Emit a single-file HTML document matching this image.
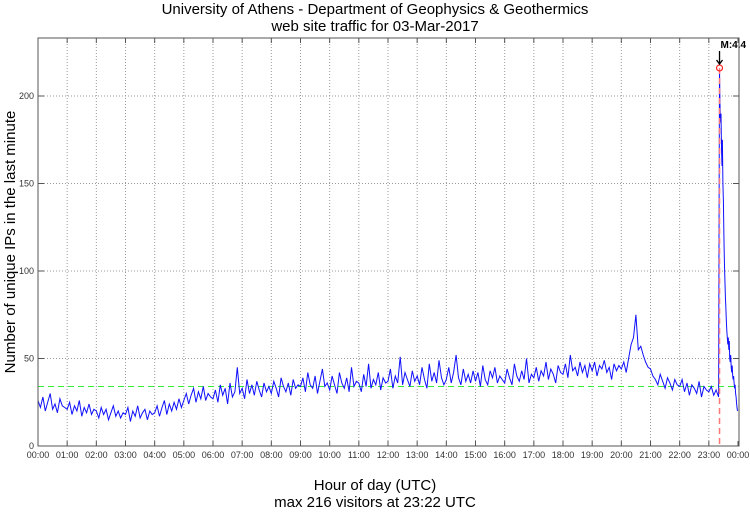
<!DOCTYPE html>
<html><head><meta charset="utf-8"><style>
body{margin:0;background:#fff;}
svg text{font-family:"Liberation Sans",sans-serif;}
</style></head><body>
<svg id="chart" width="750" height="511" viewBox="0 0 750 511" xmlns="http://www.w3.org/2000/svg">
<text x="375" y="14" text-anchor="middle" font-size="15">University of Athens - Department of Geophysics &amp; Geothermics</text>
<text x="375" y="31" text-anchor="middle" font-size="15">web site traffic for 03-Mar-2017</text>
<g id="grid"></g>
<g id="ticks"></g>
<g id="series"></g>
<rect x="38" y="38" width="701" height="408" fill="none" stroke="#555" stroke-width="1"/>
<text transform="translate(15,242) rotate(-90)" text-anchor="middle" font-size="15">Number of unique IPs in the last minute</text>
<text x="375" y="490" text-anchor="middle" font-size="15">Hour of day (UTC)</text>
<text x="375" y="507" text-anchor="middle" font-size="15">max 216 visitors at 23:22 UTC</text>
</svg>
<script>
const hourLabels=["00:00","01:00","02:00","03:00","04:00","05:00","06:00","07:00","08:00","09:00","10:00","11:00","12:00","13:00","14:00","15:00","16:00","17:00","18:00","19:00","20:00","21:00","22:00","23:00","00:00"];
const yTicks=[0,50,100,150,200];
const meanValue=34;
const maxValue=216;
const maxMinute=1402;
const eventLabel="M:4.4";
// 5-minute samples 00:00 .. 23:20
const fiveMinValues=[
26,22,28,20,25,30,21,24,19,27,23,22,
21,25,18,23,20,26,17,22,19,24,18,21,
20,16,22,18,21,15,19,23,17,20,16,19,
18,22,14,20,17,23,16,19,21,15,20,18,
19,23,17,22,26,18,24,20,25,21,27,22,
26,30,24,29,33,25,31,27,34,26,30,28,
27,32,25,35,29,33,24,36,28,31,45,30,
33,27,38,30,35,29,37,32,28,36,31,34,
30,37,33,28,39,34,31,36,29,38,33,35,
34,39,31,42,35,33,40,30,37,44,34,36,
32,40,35,30,42,36,33,39,31,45,34,37,
36,31,41,34,47,33,38,35,42,32,39,36,
37,44,33,40,36,51,35,42,38,34,43,37,
40,35,45,38,33,47,37,42,36,49,39,35,
38,45,36,42,52,39,35,44,37,41,36,43,
37,42,34,46,38,35,43,39,45,36,40,38,
36,44,39,35,47,40,37,43,38,50,36,41,
39,45,37,43,40,48,38,44,41,36,46,42,
41,47,39,52,43,45,40,48,42,46,39,47,
43,48,40,46,44,49,42,45,38,47,43,46,
44,48,42,50,58,62,75,55,57,52,48,45,
44,40,38,35,41,37,33,39,36,32,38,35,
34,38,31,36,29,35,33,30,37,28,34,32,
31,34,29,32,28];
// per-minute samples 23:21 .. 23:59
const spikeValues=[120,216,195,185,190,170,160,175,150,140,120,105,95,85,80,72,66,62,58,62,55,60,50,48,52,45,42,46,40,38,40,36,33,35,30,28,25,22,20];
const spikeStartMinute=1401;

const X0=38,X1=738,Y0=446,PX_PER_UNIT=1.75;
const xs=m=>X0+(X1-X0)*m/1440;
const ys=v=>Y0-v*PX_PER_UNIT;
const NS="http://www.w3.org/2000/svg";
function mk(tag,attrs,parent){const e=document.createElementNS(NS,tag);for(const k in attrs)e.setAttribute(k,attrs[k]);parent.appendChild(e);return e;}
const grid=document.getElementById('grid'),ticks=document.getElementById('ticks'),series=document.getElementById('series'),svg=document.getElementById('chart');

hourLabels.forEach((lab,i)=>{
  const x=xs(i*60);
  if(i>0&&i<24){const g=mk('line',{x1:x,x2:x,y1:38,y2:446,stroke:'#999','stroke-dasharray':'1,2','stroke-width':1},grid);
  
  }
  const t=mk('line',{x1:x,x2:x,y1:446,y2:441,stroke:'#555'},ticks);
  
  
  const t2=mk('line',{x1:x,x2:x,y1:38,y2:43,stroke:'#555'},ticks);
  
  
  const tx=mk('text',{x:x,y:458,'text-anchor':'middle','font-size':9,fill:'#333'},ticks);
  tx.textContent=lab;
  
  
});
yTicks.forEach(v=>{
  const y=ys(v);
  if(v>0){const g=mk('line',{x1:38,x2:739,y1:y,y2:y,stroke:'#999','stroke-dasharray':'1,2','stroke-width':1},grid);
  
  }
  const t=mk('line',{x1:38,x2:44,y1:y,y2:y,stroke:'#555'},ticks);
  
  
  const t2=mk('line',{x1:733,x2:739,y1:y,y2:y,stroke:'#555'},ticks);
  
  
  const tx=mk('text',{x:34,y:y+3,'text-anchor':'end','font-size':9,fill:'#333'},ticks);
  tx.textContent=v;
  
  
});

const mean=mk('line',{x1:38,x2:739,y1:ys(meanValue),y2:ys(meanValue),stroke:'#33ee33','stroke-dasharray':'6,4','stroke-width':1},series);



let pts=fiveMinValues.map((v,i)=>xs(i*5).toFixed(1)+','+ys(v).toFixed(1));
spikeValues.forEach((v,i)=>pts.push(xs(spikeStartMinute+i).toFixed(1)+','+ys(v).toFixed(1)));
const line=mk('polyline',{points:pts.join(' '),fill:'none',stroke:'#1010ff','stroke-width':1},series);



const mx=xs(maxMinute),my=ys(maxValue);
const vl=mk('line',{x1:mx,x2:mx,y1:my,y2:446,stroke:'#ff7777','stroke-dasharray':'6,4','stroke-width':1.5},series);


const c=mk('circle',{cx:mx,cy:my,r:3,fill:'none',stroke:'#ff2222','stroke-width':1.2},series);


const ar=mk('path',{d:`M${mx} ${my-17} L${mx} ${my-4} M${mx-3} ${my-8} L${mx} ${my-4} L${mx+3} ${my-8}`,stroke:'#000',fill:'none','stroke-width':1.3},series);


const el=mk('text',{x:mx+1,y:my-20,'font-size':10,'font-weight':'bold'},series);
el.textContent=eventLabel;


</script>
</body></html>
